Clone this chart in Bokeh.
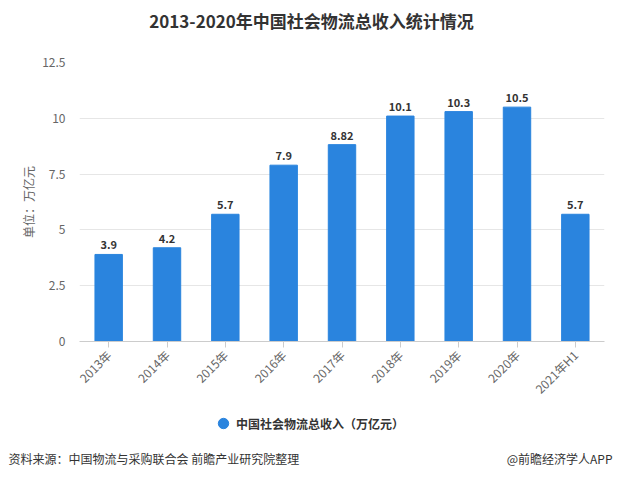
from bokeh.plotting import figure
from bokeh.models import Label, FixedTicker, Legend, LegendItem, ColumnDataSource, Range1d
from bokeh.layouts import column, row
from bokeh.embed import file_html
from bokeh.resources import INLINE
import math

categories = ["2013年", "2014年", "2015年", "2016年", "2017年", "2018年", "2019年", "2020年", "2021年H1"]
values = [3.9, 4.2, 5.7, 7.9, 8.82, 10.1, 10.3, 10.5, 5.7]
value_labels = ["3.9", "4.2", "5.7", "7.9", "8.82", "10.1", "10.3", "10.5", "5.7"]
y_ticks = [0, 2.5, 5, 7.5, 10, 12.5]
y_tick_labels = ["0", "2.5", "5", "7.5", "10", "12.5"]
series_name = "中国社会物流总收入（万亿元）"
title_text = "2013-2020年中国社会物流总收入统计情况"
source_text = "资料来源：中国物流与采购联合会 前瞻产业研究院整理"
credit_text = "@前瞻经济学人APP"

FONT = "Noto Sans CJK SC"
BAR = "#2a84de"


def strip(h):
    s = figure(width=619, height=h, x_range=Range1d(0, 619), y_range=Range1d(h, 0),
               output_backend="svg", toolbar_location=None,
               min_border_left=0, min_border_right=0, min_border_top=0, min_border_bottom=0)
    s.axis.visible = False
    s.grid.visible = False
    s.outline_line_color = None
    s.background_fill_color = "white"
    s.border_fill_color = "white"
    return s


# top strip: title
H0 = 40
p0 = strip(H0)
p0.add_layout(Label(x=311, y=20, text=title_text, text_align="center", text_baseline="middle",
                    text_font=FONT, text_font_size="17px", text_font_style="bold", text_color="#333333"))

# main chart
src = ColumnDataSource(dict(cat=categories, val=values, lab=value_labels))
p = figure(width=619, height=365, x_range=categories, y_range=Range1d(0, 12.5),
           output_backend="svg", toolbar_location=None,
           min_border_left=79, min_border_right=15, min_border_top=22, min_border_bottom=63)
p.outline_line_color = None
p.background_fill_color = "white"
p.border_fill_color = "white"

p.vbar(x="cat", top="val", width=0.47, color=BAR, source=src)
p.text(x="cat", y="val", text="lab", source=src, text_align="center", text_baseline="bottom",
       y_offset=-5, text_font_size="11px", text_font_style="bold", text_color="#333333",
       text_font={"value": FONT})

p.yaxis.ticker = FixedTicker(ticks=y_ticks)
p.yaxis.major_label_overrides = {t: l for t, l in zip(y_ticks, y_tick_labels)}
p.yaxis.axis_line_color = None
p.yaxis.major_tick_line_color = None
p.yaxis.minor_tick_line_color = None
p.yaxis.major_label_text_font_size = "12px"
p.yaxis.major_label_text_color = "#666666"
p.yaxis.major_label_text_font = FONT
p.yaxis.major_label_standoff = 8
p.yaxis.axis_label = "单位：万亿元"
p.yaxis.axis_label_text_font = FONT
p.yaxis.axis_label_text_font_size = "12px"
p.yaxis.axis_label_text_font_style = "normal"
p.yaxis.axis_label_text_color = "#666666"
p.yaxis.axis_label_standoff = 2

p.xaxis.axis_line_color = "#cccccc"
p.xaxis.major_tick_line_color = "#cccccc"
p.xaxis.major_tick_out = 6
p.xaxis.major_tick_in = 0
p.xaxis.major_label_orientation = math.pi / 4
p.xaxis.major_label_text_font_size = "12px"
p.xaxis.major_label_text_color = "#666666"
p.xaxis.major_label_text_font = FONT

p.xgrid.grid_line_color = None
p.ygrid.grid_line_color = "#e6e6e6"
p.x_range.range_padding = 0

# bottom strip: legend and source notes
H2 = 74
p2 = strip(H2)
dot = p2.scatter(x=[float("nan")], y=[float("nan")], marker="circle", size=12, color=BAR)
legend = Legend(items=[LegendItem(label=series_name, renderers=[dot])],
                location=(210, 41), orientation="horizontal", margin=0, padding=0,
                label_text_font=FONT, label_text_font_size="12px", label_text_color="#333333",
                label_text_font_style="bold", label_standoff=0,
                border_line_color=None, background_fill_alpha=0, glyph_width=26, glyph_height=30)
p2.add_layout(legend, "center")
p2.add_layout(Label(x=8, y=53, text=source_text,
                    text_align="left", text_baseline="middle", text_font=FONT, text_font_size="12px",
                    text_color="#333333"))
p2.add_layout(Label(x=612, y=53, text=credit_text,
                    text_align="right", text_baseline="middle", text_font=FONT, text_font_size="12px",
                    text_color="#333333"))

layout = column(row(p0), p, row(p2), spacing=0)
open("out.html", "w").write(file_html(layout, INLINE))
